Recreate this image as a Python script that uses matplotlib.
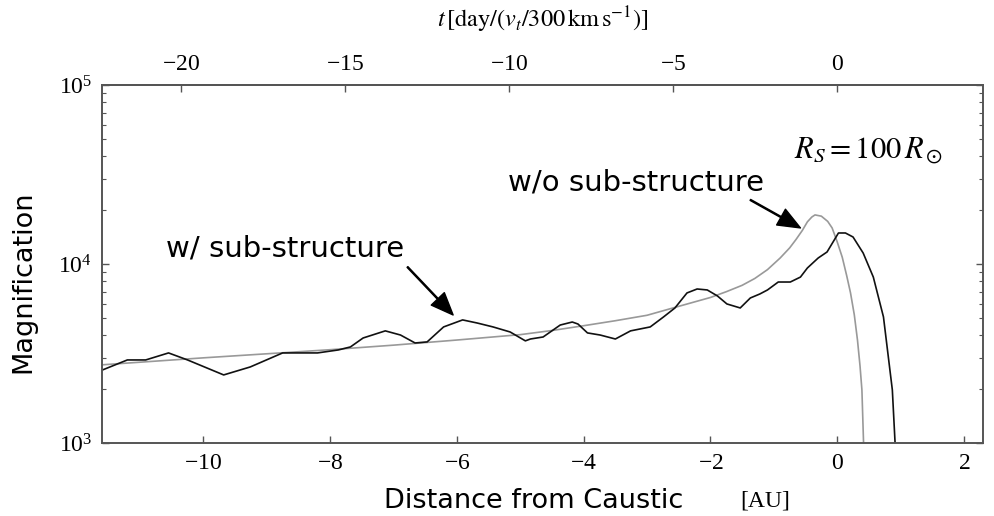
import matplotlib
matplotlib.use("Agg")
import matplotlib.pyplot as plt
import numpy as np

plt.rcParams['font.family'] = 'serif'
plt.rcParams['font.serif'] = ['Liberation Serif', 'DejaVu Serif']
plt.rcParams['mathtext.fontset'] = 'stix'
plt.rcParams['axes.formatter.use_mathtext'] = True

# distance from caustic [AU] and magnification, with sub-structure
x_sub = [-11.59, -11.20, -10.91, -10.55, -10.25, -9.68, -9.26, -8.75, -8.20, -7.87,
         -7.68, -7.48, -7.13, -6.89, -6.66, -6.47, -6.21, -5.91, -5.68, -5.43,
         -5.16, -4.92, -4.84, -4.64, -4.37, -4.18, -4.09, -3.94, -3.74, -3.50,
         -3.26, -2.95, -2.74, -2.56, -2.37, -2.21, -2.05, -1.89, -1.74, -1.53,
         -1.37, -1.22, -1.10, -0.93, -0.74, -0.58, -0.47, -0.30, -0.16, 0.02,
         0.13, 0.25, 0.41, 0.57, 0.73, 0.87, 0.92]
mag_sub = [2560, 2910, 2910, 3185, 2910, 2400, 2660, 3185, 3185, 3310,
           3440, 3860, 4230, 4010, 3620, 3670, 4450, 4870, 4680, 4450,
           4170, 3720, 3810, 3910, 4560, 4740, 4620, 4120, 4010, 3810,
           4230, 4450, 5060, 5680, 6890, 7250, 7160, 6630, 5980, 5680,
           6460, 6800, 7160, 7930, 7930, 8450, 9500, 10800, 11670, 14900,
           14900, 14150, 11510, 8450, 5060, 1980, 900]

# smooth fold-caustic curve, no sub-structure
x_smooth = [-11.62, -10.0, -9.0, -8.0, -7.0, -6.0, -5.0, -4.5, -4.0, -3.5,
            -3.0, -2.5, -2.0, -1.75, -1.5, -1.3, -1.1, -0.9, -0.75, -0.65,
            -0.55, -0.47, -0.40, -0.35, -0.25, -0.15, -0.08, 0.0, 0.08, 0.15,
            0.21, 0.27, 0.32, 0.36, 0.39, 0.42]
mag_smooth = [2730, 2990, 3150, 3320, 3520, 3760, 4030, 4250, 4520, 4820,
              5170, 5800, 6500, 7000, 7600, 8300, 9300, 10800, 12300, 13700,
              15400, 17200, 18300, 18800, 18500, 17300, 15900, 13300, 10900, 8600,
              6900, 5200, 3760, 2700, 1980, 900]

# conversion for the top axis: AU per day at v_t = 300 km/s
au_per_day = 0.518
top_ticks = [-20, -15, -10, -5, 0]
bottom_ticks = [-10, -8, -6, -4, -2, 0, 2]

fig = plt.figure(figsize=(9.94, 5.16), dpi=100)
ax = fig.add_axes([0.1026, 0.1415, 0.8863, 0.6938])

ax.plot(x_smooth, mag_smooth, color='#999999', lw=1.2)
ax.plot(x_sub, mag_sub, color='#111111', lw=1.2)

ax.set_yscale('log')
ax.set_xlim(-11.6, 2.3)
ax.set_ylim(1e3, 1e5)
ax.set_xticks(bottom_ticks)

for sp in ax.spines.values():
    sp.set_color('#555555')
    sp.set_linewidth(1.4)

ax.tick_params(axis='both', which='both', direction='in', colors='#555555',
               labelcolor='black', labelsize=17, pad=7)
ax.tick_params(axis='y', which='both', left=True, right=True)
ax.tick_params(axis='x', which='both', top=False)
ax.tick_params(which='major', length=5, width=1)
ax.tick_params(which='minor', length=3, width=0.8)

secax = ax.secondary_xaxis('top', functions=(lambda v: np.asarray(v) / au_per_day,
                                              lambda t: np.asarray(t) * au_per_day))
secax.set_xticks(top_ticks)
secax.tick_params(direction='in', length=5, width=1, colors='#555555',
                  labelcolor='black', labelsize=17, pad=7)
secax.spines['top'].set_color('#555555')
secax.spines['top'].set_linewidth(1.4)

fig.text(0.546, 0.961, r'$t\,[\mathrm{day}/(v_t/300\,\mathrm{km\,s^{-1}})]$',
         ha='center', va='center', fontsize=17.5)

ax.set_ylabel('Magnification', family='DejaVu Sans', fontsize=19.5)
ax.yaxis.set_label_coords(-0.075, 0.45)
fig.text(0.537, 0.03, 'Distance from Caustic', family='DejaVu Sans',
         fontsize=19.5, ha='center', va='center')
fig.text(0.770, 0.03, '[AU]', fontsize=17, ha='center', va='center')

arrow = dict(facecolor='black', edgecolor='black', width=0.8,
             headwidth=13, headlength=16, shrink=0)
ax.annotate('', xy=(-6.06, 5190), xytext=(-6.78, 9620), arrowprops=arrow)
ax.text(-8.71, 12280, 'w/ sub-structure', family='DejaVu Sans', fontsize=21,
        ha='center', va='center')
ax.annotate('', xy=(-0.58, 15900), xytext=(-1.37, 22800), arrowprops=arrow)
ax.text(-3.17, 28400, 'w/o sub-structure', family='DejaVu Sans', fontsize=21,
        ha='center', va='center')
ax.text(0.49, 43300, r'$R_S = 100\,R_\odot$', fontsize=22,
        ha='center', va='center')

fig.savefig('out.png', dpi=100)
